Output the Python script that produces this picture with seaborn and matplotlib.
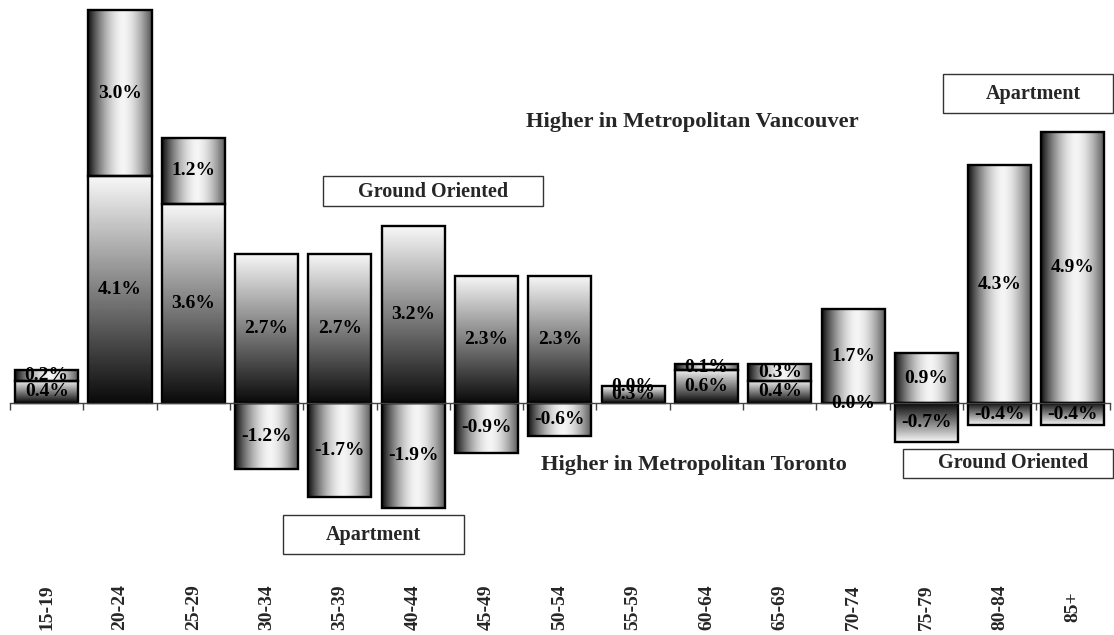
import numpy as np
import pandas as pd
import matplotlib
matplotlib.use("Agg")
import matplotlib.pyplot as plt
import matplotlib.transforms as mtransforms
from matplotlib.patches import Rectangle
import seaborn as sns

# Difference in share of households by age of maintainer (percentage points)
age_groups = ["15-19", "20-24", "25-29", "30-34", "35-39", "40-44", "45-49",
              "50-54", "55-59", "60-64", "65-69", "70-74", "75-79", "80-84", "85+"]
ground_oriented = [0.4, 4.1, 3.6, 2.7, 2.7, 3.2, 2.3, 2.3, 0.3, 0.6, 0.4, 0.0, -0.7, -0.4, -0.4]
apartment = [0.2, 3.0, 1.2, -1.2, -1.7, -1.9, -0.9, -0.6, 0.0, 0.1, 0.3, 1.7, 0.9, 4.3, 4.9]

sns.set_theme(style="white")
plt.rcParams["font.family"] = ["Liberation Serif", "DejaVu Serif"]
plt.rcParams["font.weight"] = "bold"

# stack like a spreadsheet: same-sign segments pile up, opposite signs start at zero
apt_bottom = [g if (g > 0 and a >= 0) or (g < 0 and a < 0) else 0.0
              for g, a in zip(ground_oriented, apartment)]

df = pd.DataFrame({"age": age_groups, "ground": ground_oriented,
                   "apt": apartment, "apt_bottom": apt_bottom})

fig = plt.figure(figsize=(11.14, 6.35), dpi=100)
ax = fig.add_axes([0, 0, 1, 1])

sns.barplot(data=df, x="age", y="ground", order=age_groups, errorbar=None,
            width=0.86, color="white", ax=ax)
sns.barplot(data=df, x="age", y="apt", order=age_groups, errorbar=None,
            width=0.86, color="white", bottom=df["apt_bottom"].to_numpy(), ax=ax)

ax.set_xlim(-0.637, 14.56)
ax.set_ylim(-4.195, 7.288)


def ground_shade(n=256):
    # dark at the zero line, fading to white at the bar tip
    t = np.linspace(0, 1, n)
    return 0.04 + 0.93 * t


def apartment_shade(n=256):
    # cylinder look: dark edges, bright centre
    t = np.linspace(0, 1, n)
    d = np.clip(np.abs(t - 0.55) / 0.55, 0, 1)
    return 0.06 + 0.90 * (1 - d ** 1.7)


def shade_bars(container, horizontal):
    for patch in container.patches:
        bb = patch.get_bbox()
        x0, x1 = bb.x0, bb.x1
        y0, y1 = min(bb.y0, bb.y1), max(bb.y0, bb.y1)
        if y1 - y0 <= 0:
            patch.set_facecolor("none")
            continue
        if horizontal:
            img = apartment_shade()[None, :]
        else:
            g = ground_shade()[:, None]
            positive = patch.get_height() >= 0
            img = g if positive else g[::-1]
        im = ax.imshow(img, cmap="gray", vmin=0, vmax=1, aspect="auto",
                       origin="lower", extent=(x0, x1, y0, y1),
                       interpolation="bilinear", zorder=1.5)
        im.set_clip_path(patch)
        patch.set_facecolor("none")
        patch.set_edgecolor("black")
        patch.set_linewidth(1.7)
        patch.set_zorder(2)


shade_bars(ax.containers[0], horizontal=False)
shade_bars(ax.containers[1], horizontal=True)
ax.set_xlim(-0.637, 14.56)
ax.set_ylim(-4.195, 7.288)

label_kw = dict(ha="center", va="center", fontsize=14, fontweight="bold",
                color="black", zorder=3)
for i, (g, a, b) in enumerate(zip(ground_oriented, apartment, apt_bottom)):
    ax.text(i, g / 2, f"{g:.1f}%", **label_kw)
    ax.text(i, b + a / 2, f"{a:.1f}%", **label_kw)

# axis: a single line at zero with ticks between categories
for side in ["top", "right", "left"]:
    ax.spines[side].set_visible(False)
ax.spines["bottom"].set_position(("data", 0))
ax.spines["bottom"].set_bounds(-0.5, 14.5)
ax.spines["bottom"].set_color("#444444")
ax.spines["bottom"].set_linewidth(1.0)
ax.spines["bottom"].set_zorder(2.5)
ax.set_xticks(np.arange(-0.5, 15.0, 1.0))
ax.set_xticklabels([])
ax.tick_params(axis="x", direction="out", length=5, width=1.0, color="#444444",
               bottom=True)
ax.set_yticks([])
ax.set_xlabel("")
ax.set_ylabel("")

# category labels at the foot of the chart
trans = mtransforms.blended_transform_factory(ax.transData, ax.transAxes)
for i, lab in enumerate(age_groups):
    ax.text(i, 1 - 607 / 635, lab, transform=trans, rotation=90, ha="center",
            va="center", fontsize=14, fontweight="bold")

# legend-style boxes and annotations
W, H = 1114.0, 635.0


def box_label(x0, y0, x1, y1, text, tx, ty):
    ax.add_patch(Rectangle((x0 / W, 1 - y1 / H), (x1 - x0) / W, (y1 - y0) / H,
                           transform=ax.transAxes, facecolor="white",
                           edgecolor="#333333", linewidth=1.0, zorder=4,
                           clip_on=False))
    ax.text(tx / W, 1 - ty / H, text, transform=ax.transAxes, ha="center",
            va="center", fontsize=14.5, fontweight="bold", zorder=5)


box_label(323, 176, 543, 206, "Ground Oriented", 433, 192)
box_label(283, 515, 464, 554, "Apartment", 373, 535)
box_label(943, 74, 1113, 113, "Apartment", 1033, 94)
box_label(903, 449, 1113, 478, "Ground Oriented", 1013, 463)

ax.text(692 / W, 1 - 122 / H, "Higher in Metropolitan Vancouver",
        transform=ax.transAxes, ha="center", va="center", fontsize=16.2,
        fontweight="bold")
ax.text(694 / W, 1 - 465 / H, "Higher in Metropolitan Toronto",
        transform=ax.transAxes, ha="center", va="center", fontsize=16.2,
        fontweight="bold")

fig.savefig("out.png", dpi=100, facecolor="white")
